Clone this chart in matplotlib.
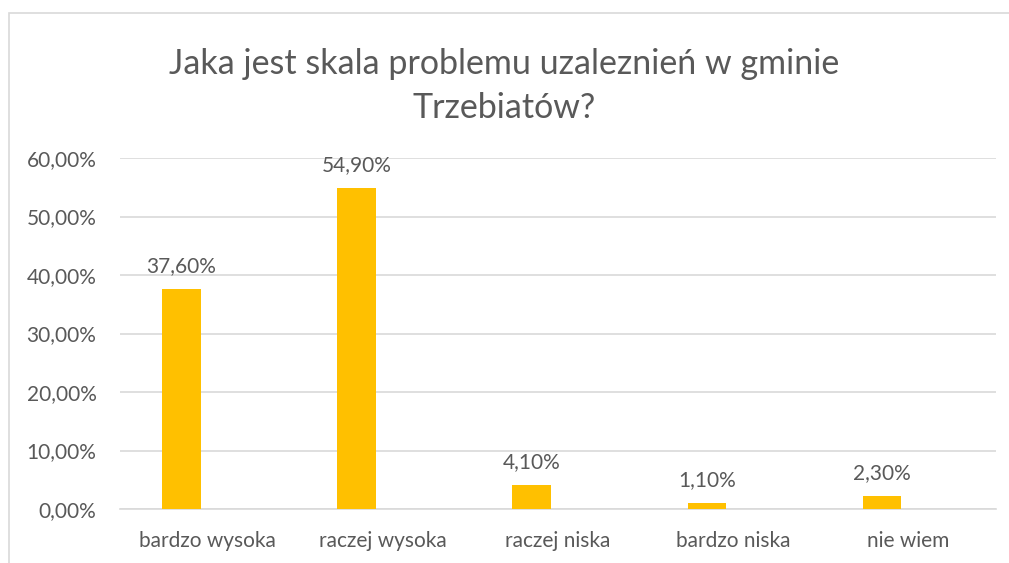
import matplotlib.pyplot as plt
from matplotlib.patches import Rectangle
from matplotlib.ticker import FuncFormatter

categories = ["bardzo wysoka", "raczej wysoka", "raczej niska", "bardzo niska", "nie wiem"]
values = [37.6, 54.9, 4.1, 1.1, 2.3]
yticks = [0, 10, 20, 30, 40, 50, 60]

TEXT = "#595959"
GRID = "#D9D9D9"
BAR = "#FFC000"

plt.rcParams["font.family"] = ["Lato", "DejaVu Sans"]

W, H = 1009, 563
fig = plt.figure(figsize=(W / 100, H / 100), dpi=100)

# chart border (cropped: only top and left edges visible)
fig.patches.append(Rectangle((9 / W, -0.1), 1.2, 1.1 - 13 / H,
                             transform=fig.transFigure, fill=False,
                             edgecolor=GRID, lw=1.2))

left, right = 120 / W, 996 / W
bottom, top = 1 - 509 / H, 1 - 158 / H
ax = fig.add_axes([left, bottom, right - left, top - bottom])

# bars sit left of the category centre (second, empty series in the source)
offset = -0.15
x = list(range(len(categories)))
bx = [xi + offset for xi in x]
ax.bar(bx, values, width=0.22, color=BAR, zorder=3)
for xi, v in zip(bx, values):
    ax.text(xi, v + 2.2, f"{v:.2f}%".replace(".", ","), ha="center", va="bottom",
            fontsize=15, color=TEXT)

ax.set_xlim(-0.5, len(categories) - 0.5)
ax.set_ylim(0, 60)
ax.set_yticks(yticks)
ax.yaxis.set_major_formatter(FuncFormatter(lambda v, _: f"{v:.2f}%".replace(".", ",")))
ax.set_xticks(x)
ax.set_xticklabels(categories)
ax.tick_params(axis="both", length=0, labelsize=15, labelcolor=TEXT)
ax.tick_params(axis="x", pad=16)
ax.tick_params(axis="y", pad=17)
ax.grid(axis="y", color=GRID, lw=1.2, zorder=0)
for s in ["top", "right", "left"]:
    ax.spines[s].set_visible(False)
ax.spines["bottom"].set_color(GRID)
ax.spines["bottom"].set_linewidth(1.2)

fig.text(0.5, 1 - 86 / H, "Jaka jest skala problemu uzaleznień w gminie\nTrzebiatów?",
         ha="center", va="center", fontsize=24.5, color=TEXT, linespacing=1.45)

fig.savefig("out.png", dpi=100)
